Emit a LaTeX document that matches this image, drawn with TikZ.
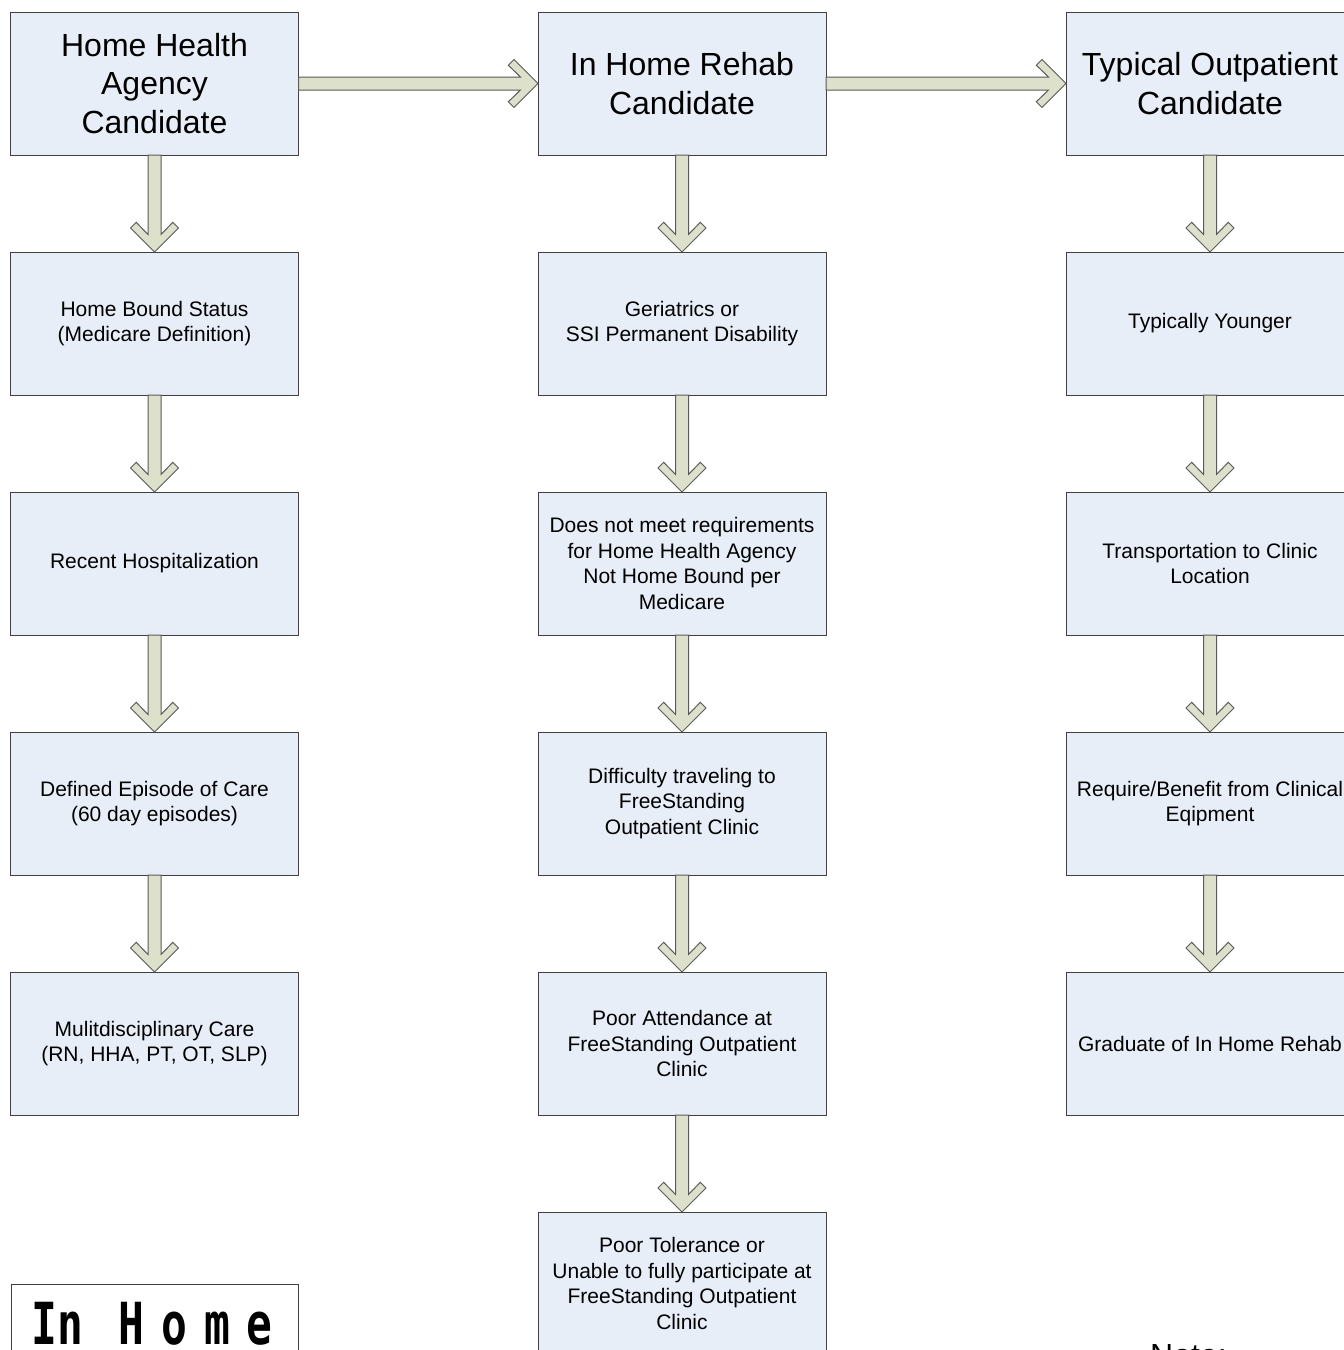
\documentclass[tikz,border=0pt]{standalone}
\usepackage{fontspec}
\usepackage{graphicx}
\setmainfont{Liberation Sans}
\newfontfamily\inhomefont{DejaVu Sans Mono}
\usetikzlibrary{calc}
\definecolor{boxfill}{HTML}{E8EEF8}
\definecolor{boxline}{HTML}{404040}
\definecolor{arrfill}{HTML}{DDE1CB}
\definecolor{arrline}{HTML}{5A5A5A}
\tikzset{
  stepbox/.style={draw=boxline, fill=boxfill, line width=1pt, minimum width=288pt, minimum height=143pt,
    inner sep=0pt, outer sep=0pt, align=center, font=\fontsize{21}{25.5}\selectfont},
  headbox/.style={stepbox, font=\fontsize{32}{38.5}\selectfont},
  blockarrow/.style={draw=arrline, fill=arrfill, line width=1pt, line join=miter},
  downarr/.style={to path={let \p1=(\tikztostart), \p2=(\tikztotarget) in
    (\x1-6.5pt,\y1) -- (\x1-6.5pt,\y2+17.5pt) -- (\x1-18.3pt,\y2+29.7pt) -- (\x1-24pt,\y2+24pt) -- (\x1,\y2)
    -- (\x1+24pt,\y2+24pt) -- (\x1+18.3pt,\y2+29.7pt) -- (\x1+6.5pt,\y2+17.5pt) -- (\x1+6.5pt,\y1) -- cycle}},
  rightarr/.style={to path={let \p1=(\tikztostart), \p2=(\tikztotarget) in
    (\x1,\y1+6.5pt) -- (\x2-17.5pt,\y1+6.5pt) -- (\x2-29.7pt,\y1+18.3pt) -- (\x2-24pt,\y1+24pt) -- (\x2,\y1)
    -- (\x2-24pt,\y1-24pt) -- (\x2-29.7pt,\y1-18.3pt) -- (\x2-17.5pt,\y1-6.5pt) -- (\x1,\y1-6.5pt) -- cycle}}
}
\begin{document}
\begin{tikzpicture}[x=1pt,y=-1pt]
\useasboundingbox (0,0) rectangle (1344,1350);
\clip (0,0) rectangle (1344,1350);
\fill[white] (0,0) rectangle (1344,1350);
% column 1
\node[headbox] (h1) at (154.5,83.5) {Home Health\\Agency\\Candidate};
\node[stepbox] (h2) at (154.5,323.5) {Home Bound Status\\(Medicare Definition)};
\node[stepbox] (h3) at (154.5,563.5) {Recent Hospitalization};
\node[stepbox] (h4) at (154.5,803.5) {Defined Episode of Care\\(60 day episodes)};
\node[stepbox] (h5) at (154.5,1043.5) {Mulitdisciplinary Care\\(RN, HHA, PT, OT, SLP)};
% column 2
\node[headbox] (r1) at (682,83.5) {In Home Rehab\\Candidate};
\node[stepbox] (r2) at (682,323.5) {Geriatrics or\\SSI Permanent Disability};
\node[stepbox] (r3) at (682,563.5) {Does not meet requirements\\for Home Health Agency\\Not Home Bound per\\Medicare};
\node[stepbox] (r4) at (682,803.5) {Difficulty traveling to\\FreeStanding\\Outpatient Clinic};
\node[stepbox] (r5) at (682,1043.5) {Poor Attendance at\\FreeStanding Outpatient\\Clinic};
\node[stepbox] (r6) at (682,1283.5) {Poor Tolerance or\\Unable to fully participate at\\FreeStanding Outpatient\\Clinic};
% column 3
\node[headbox] (o1) at (1210,83.5) {Typical Outpatient\\Candidate};
\node[stepbox] (o2) at (1210,323.5) {Typically Younger};
\node[stepbox] (o3) at (1210,563.5) {Transportation to Clinic\\Location};
\node[stepbox] (o4) at (1210,803.5) {Require/Benefit from Clinical\\Eqipment};
\node[stepbox] (o5) at (1210,1043.5) {Graduate of In Home Rehab};
% arrows
\draw[blockarrow] (h1.east) to[rightarr] (r1.west);
\draw[blockarrow] (r1.east) to[rightarr] (o1.west);
\foreach \a/\b in {h1/h2,h2/h3,h3/h4,h4/h5,r1/r2,r2/r3,r3/r4,r4/r5,r5/r6,o1/o2,o2/o3,o3/o4,o4/o5}
  \draw[blockarrow] (\a.south) to[downarr] (\b.north);
% bottom-left box
\node[draw=boxline, fill=white, line width=1pt, minimum width=287pt, minimum height=143pt, inner sep=0pt, outer sep=0pt] (ih) at (154.5,1355.5) {};
\node[anchor=base west, inner sep=0pt, font=\inhomefont\bfseries\fontsize{58}{60}\selectfont] (iht) at (31,1344)
  {\scalebox{0.74}[1]{In\kern48pt H\kern23pt o\kern23pt m\kern23pt e}};
% note
\node[anchor=base west, inner sep=0pt, font=\fontsize{32}{38}\selectfont] (note) at (1150,1366) {Note:};
\end{tikzpicture}
\end{document}
